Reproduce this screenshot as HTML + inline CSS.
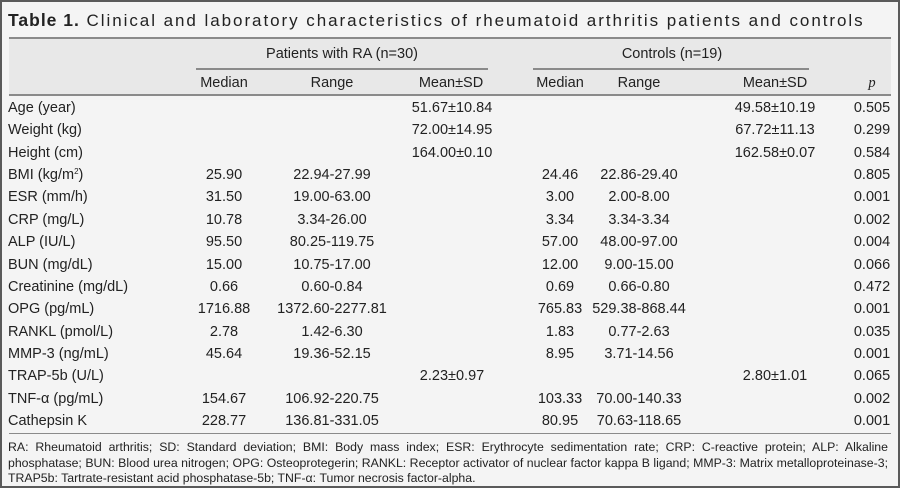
<!DOCTYPE html>
<html><head><meta charset="utf-8"><style>
body{margin:0;width:900px;height:488px;overflow:hidden;background:#fff}
#f{position:absolute;left:0;top:0;width:896px;height:484px;border:2px solid #5a5a5a;background:#f4f4f4;font-family:"Liberation Sans",sans-serif;color:#222;font-size:14.5px}
.t{position:absolute;line-height:22px;height:22px;white-space:nowrap}
.c{transform:translateX(-50%)}
.ln{position:absolute;background:#8a8a8a;height:1px}
</style></head><body><div id="f">
<div class="t" style="left:6px;top:7px;font-size:17px;letter-spacing:1.95px"><b style="font-size:17.5px;letter-spacing:1px">Table 1.</b> Clinical and laboratory characteristics of rheumatoid arthritis patients and controls</div>
<div style="position:absolute;left:7px;top:36px;width:882px;height:57px;background:#e8e8e8"></div>
<div class="ln" style="left:7px;top:35px;width:882px;height:2px"></div>
<div class="ln" style="left:194px;top:66px;width:292px;height:2px"></div>
<div class="ln" style="left:531px;top:66px;width:276px;height:2px"></div>
<div class="ln" style="left:7px;top:92px;width:882px;height:2px"></div>
<div class="ln" style="left:7px;top:431px;width:882px"></div>
<div class="t c" style="left:340px;top:41px">Patients with RA (n=30)</div>
<div class="t c" style="left:670px;top:41px">Controls (n=19)</div>
<div class="t c" style="left:222px;top:70px">Median</div>
<div class="t c" style="left:330px;top:70px">Range</div>
<div class="t c" style="left:449px;top:70px">Mean±SD</div>
<div class="t c" style="left:558px;top:70px">Median</div>
<div class="t c" style="left:637px;top:70px">Range</div>
<div class="t c" style="left:773px;top:70px">Mean±SD</div>
<div class="t c" style="left:870px;top:70px;font-style:italic;font-family:'Liberation Serif',serif">p</div>
<div id="rows"></div>
<div class="t" style="left:6px;top:438px;font-size:12.3px;line-height:15.5px;width:880px;height:auto;white-space:normal;text-align:justify">RA: Rheumatoid arthritis; SD: Standard deviation; BMI: Body mass index; ESR: Erythrocyte sedimentation rate; CRP: C-reactive protein; ALP: Alkaline phosphatase; BUN: Blood urea nitrogen; OPG: Osteoprotegerin; RANKL: Receptor activator of nuclear factor kappa B ligand; MMP-3: Matrix metalloproteinase-3; TRAP5b: Tartrate-resistant acid phosphatase-5b; TNF-α: Tumor necrosis factor-alpha.</div>
</div>
<script>
var R=[["Age (year)","","","51.67±10.84","","","49.58±10.19","0.505"],
["Weight (kg)","","","72.00±14.95","","","67.72±11.13","0.299"],
["Height (cm)","","","164.00±0.10","","","162.58±0.07","0.584"],
["BMI (kg/m<span style='font-size:8px;vertical-align:5px;line-height:0'>2</span>)","25.90","22.94-27.99","","24.46","22.86-29.40","","0.805"],
["ESR (mm/h)","31.50","19.00-63.00","","3.00","2.00-8.00","","0.001"],
["CRP (mg/L)","10.78","3.34-26.00","","3.34","3.34-3.34","","0.002"],
["ALP (IU/L)","95.50","80.25-119.75","","57.00","48.00-97.00","","0.004"],
["BUN (mg/dL)","15.00","10.75-17.00","","12.00","9.00-15.00","","0.066"],
["Creatinine (mg/dL)","0.66","0.60-0.84","","0.69","0.66-0.80","","0.472"],
["OPG (pg/mL)","1716.88","1372.60-2277.81","","765.83","529.38-868.44","","0.001"],
["RANKL (pmol/L)","2.78","1.42-6.30","","1.83","0.77-2.63","","0.035"],
["MMP-3 (ng/mL)","45.64","19.36-52.15","","8.95","3.71-14.56","","0.001"],
["TRAP-5b (U/L)","","","2.23±0.97","","","2.80±1.01","0.065"],
["TNF-α (pg/mL)","154.67","106.92-220.75","","103.33","70.00-140.33","","0.002"],
["Cathepsin K","228.77","136.81-331.05","","80.95","70.63-118.65","","0.001"]];
var X=[222,330,450,558,637,773,870],h="";
R.forEach(function(r,i){var y=95+i*22.36;
h+='<div class="t" style="left:6px;top:'+y+'px">'+r[0]+'</div>';
for(var j=1;j<8;j++)if(r[j])h+='<div class="t c" style="left:'+X[j-1]+'px;top:'+y+'px">'+r[j]+'</div>';});
document.getElementById("rows").innerHTML=h;
</script>
</body></html>
